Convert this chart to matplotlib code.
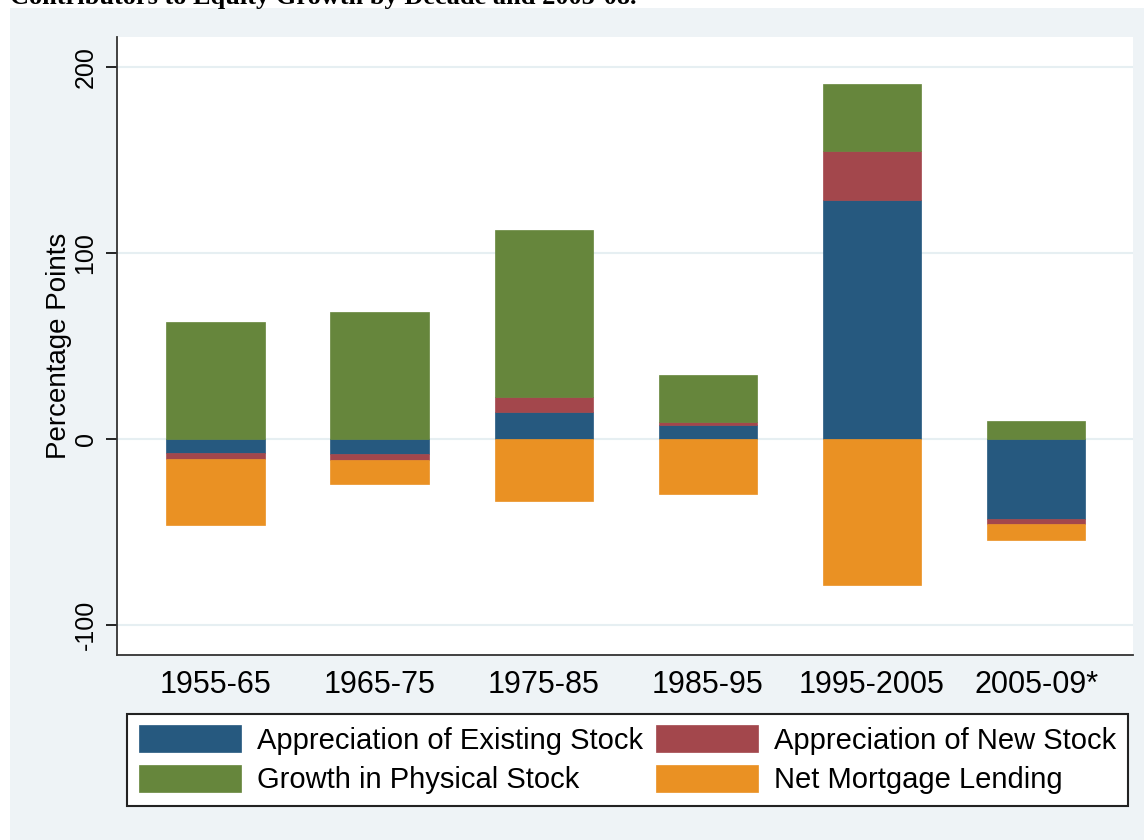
import numpy as np
import matplotlib.pyplot as plt
from matplotlib.patches import Rectangle

periods = ["1955-65", "1965-75", "1975-85", "1985-95", "1995-2005", "2005-09*"]
existing = [-7.5, -8.0, 14.5, 7.5, 128.2, -43.0]
new_stock = [-3.3, -3.3, 8.1, 1.7, 26.3, -2.8]
physical = [63.0, 67.9, 89.5, 25.3, 36.1, 9.7]
mortgage = [-35.5, -12.9, -33.4, -29.6, -78.6, -8.6]

series = [
    ("Appreciation of Existing Stock", existing, "#26597f"),
    ("Appreciation of New Stock", new_stock, "#a3474c"),
    ("Growth in Physical Stock", physical, "#66863c"),
    ("Net Mortgage Lending", mortgage, "#ea9123"),
]

plt.rcParams['font.family'] = ['Liberation Sans', 'DejaVu Sans']

W, H = 1144, 840
fig = plt.figure(figsize=(W / 100, H / 100), dpi=100, facecolor="white")
# stata-like light background panel
fig.patches.append(Rectangle((10 / W, 0), 1 - 10 / W, 1 - 8 / H,
                             transform=fig.transFigure, facecolor="#eef3f6",
                             edgecolor="none", zorder=-10))
fig.text(10 / W, 1 - 4 / H, "Contributors to Equity Growth by Decade and 2005-08.",
         family="Liberation Serif", weight="bold", fontsize=19, va="baseline")

ax = fig.add_axes([117 / W, 1 - 655 / H, (1133 - 117) / W, (655 - 37) / H])
ax.set_facecolor("white")

x = np.arange(len(periods))
pos = np.zeros(len(periods))
neg = np.zeros(len(periods))
handles = []
for name, vals, col in series:
    v = np.array(vals)
    bottom = np.where(v >= 0, pos, neg)
    b = ax.bar(x, v, width=0.6, bottom=bottom, color=col, label=name,
               edgecolor=col, linewidth=0.5, zorder=3)
    handles.append(b)
    pos = pos + np.where(v >= 0, v, 0)
    neg = neg + np.where(v < 0, v, 0)

ax.set_xlim(-0.6, 5.59)
ax.set_ylim(-116.3, 216)
ax.set_yticks([-100, 0, 100, 200])
ax.set_yticklabels(["-100", "0", "100", "200"], rotation=90, va="center", fontsize=18)
ax.set_xticks(x)
ax.set_xticklabels(periods, fontsize=22)
ax.tick_params(axis="x", length=0, pad=11)
ax.tick_params(axis="y", length=8, width=1.2, pad=6)
ax.grid(axis="y", color="#e6eff2", linewidth=1.5, zorder=1)
for s in ["top", "right"]:
    ax.spines[s].set_visible(False)
for s in ["left", "bottom"]:
    ax.spines[s].set_linewidth(1.3)
    ax.spines[s].set_color("#333333")
ax.set_ylabel("Percentage Points", fontsize=20, labelpad=1)

# row-major order like the reference legend
order = [0, 2, 1, 3]
leg = fig.legend(handles=[handles[i] for i in order], loc="lower left", ncol=2,
                 bbox_to_anchor=(127 / W, 1 - 806 / H, (1128 - 127) / W, (806 - 710) / H),
                 mode="expand", fontsize=21, handlelength=3.5, handleheight=1.05,
                 handletextpad=0.55, columnspacing=0.8, labelspacing=0.35,
                 borderpad=0.4, borderaxespad=0, fancybox=False, frameon=True)
leg.get_frame().set_edgecolor("#222222")
leg.get_frame().set_linewidth(1.5)
leg.get_frame().set_facecolor("white")
leg.get_frame().set_alpha(1)

fig.savefig("out.png", dpi=100, facecolor=fig.get_facecolor())
